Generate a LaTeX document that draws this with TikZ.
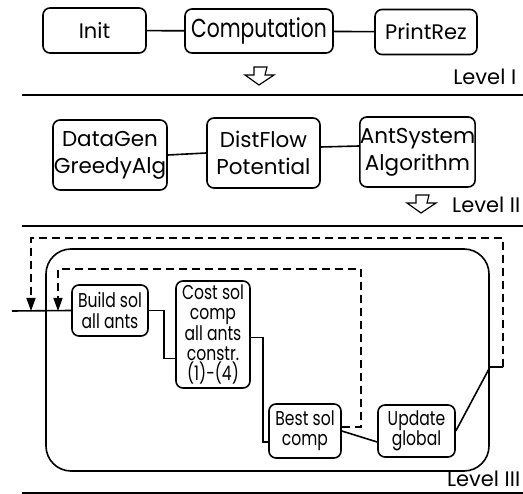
\documentclass[tikz,border=0pt]{standalone}
\usepackage{fontspec}
\setmainfont{Poppins}
\newfontfamily\narrowfont{Poppins}[FakeStretch=0.78]
\usetikzlibrary{positioning}
\usetikzlibrary{arrows.meta}

\begin{document}
\begin{tikzpicture}[x=1pt,y=-1pt,line width=1.6pt,
  box/.style={draw,rounded corners=7pt,align=center,inner sep=0pt,font=\narrowfont\fontsize{20}{20.3}\selectfont},
  topbox/.style={box,font=\fontsize{21}{22}\selectfont},
  bigbox/.style={box,font=\fontsize{21.5}{27}\selectfont},
  lvl/.style={anchor=east,inner sep=0pt,font=\fontsize{21}{22}\selectfont},
  fback/.style={dash pattern=on 8pt off 5pt,-{Triangle[length=13pt,width=9pt]}}]
 \useasboundingbox (0,0) rectangle (523,494);
 % Level I
 \node[topbox,minimum width=103pt,minimum height=45pt] (init) at (94.5,30.5) {Init};
 \node[box,minimum width=148pt,minimum height=44pt,font=\narrowfont\fontsize{26}{28}\selectfont] (comp) at (259,31) {Computation};
 \node[topbox,minimum width=102pt,minimum height=45pt] (prez) at (426,32) {PrintRez};
 \draw (init) -- (comp);
 \draw (comp) -- (prez);
 \node[lvl] (lvlone) at (517,77) {Level I};
 \draw (22,95) -- (523,95);
 % Level II
 \node[bigbox,minimum width=114pt,minimum height=70pt] (datagen) at (110,155) {DataGen\\GreedyAlg};
 \node[bigbox,minimum width=113pt,minimum height=70pt] (distflow) at (263.5,153) {DistFlow\\Potential};
 \node[bigbox,minimum width=115pt,minimum height=70pt] (antsys) at (417.5,152) {AntSystem\\Algorithm};
 \draw (datagen.east) -- (distflow.west);
 \draw ([yshift=6pt]distflow.east) -- ([yshift=6pt]antsys.west);
 \node[lvl] (lvltwo) at (521,205) {Level II};
 \draw (22,226) -- (523,226);
 % hollow arrows between levels
 \foreach \tx/\ty in {259/85,421/213}
  \draw[line width=1.2pt,line join=miter] ({\tx-5},{\ty-18}) -- ({\tx+8},{\ty-18}) -- ({\tx+6},{\ty-10})
   -- ({\tx+15},{\ty-10}) -- (\tx,\ty) -- ({\tx-14},{\ty-10}) -- ({\tx-5},{\ty-10}) -- cycle;
 % Level III
 \node[draw,rounded corners=25pt,minimum width=443pt,minimum height=222pt] (loop) at (267.5,360) {};
 \node[box,minimum width=76pt,minimum height=51pt] (build) at (110,310.5) {Build sol\\all ants};
 \node[box,minimum width=74pt,minimum height=107pt] (cost) at (213,334.5) {Cost sol\\comp\\all ants\\constr.\\(1)-(4)};
 \node[box,minimum width=72pt,minimum height=54pt] (best) at (305,431) {Best sol\\comp};
 \node[box,minimum width=77pt,minimum height=52pt] (update) at (416.5,431) {Update\\global};
 \coordinate (inpt) at (12,311);
 \coordinate (outerin) at (31,311);
 \coordinate (innerin) at (58,311);
 \coordinate (outret) at (503,367);
 \draw (inpt) -- (build.west);
 \draw (build.east) -- ++(15,0) |- ([yshift=-24pt]cost.west);
 \draw ([yshift=-3pt]cost.east) -- ++(12,0) |- ([yshift=-11pt]best.west);
 \draw (best.east) -- ([yshift=-11pt]update.west);
 \draw (update.east) -- (490,367) -- (outret);
 \draw[fback] ([yshift=4pt]best.east) -- (361,427) |- (58,269) -- (innerin);
 \draw[fback] (outret) -- (503,238) -| (outerin);
 \node[lvl] (lvlthree) at (521,479) {Level III};
 \draw (22,493) -- (523,493);
\end{tikzpicture}
\end{document}
